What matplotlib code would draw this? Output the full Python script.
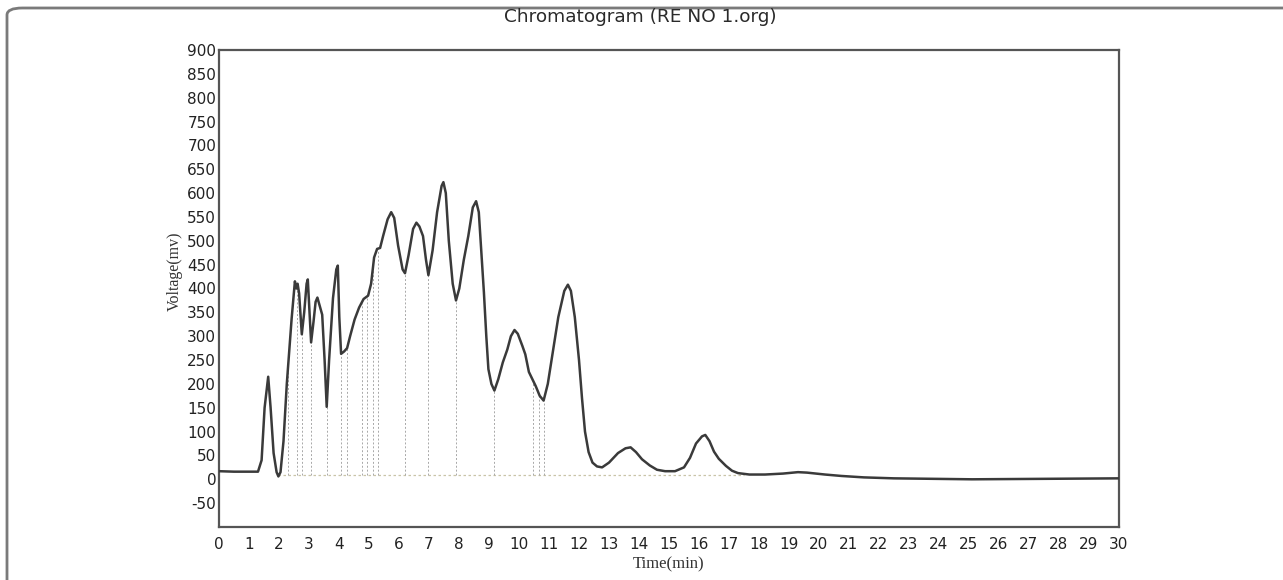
import numpy as np
import matplotlib
matplotlib.use("Agg")
import matplotlib.pyplot as plt
from matplotlib.patches import FancyBboxPatch

plt.rcParams["axes.unicode_minus"] = False

# === data ===
time_min = [0.0, 0.5, 1.0, 1.3, 1.42, 1.52, 1.64, 1.72, 1.82, 1.92, 1.98, 2.05,
            2.15, 2.26, 2.42, 2.53, 2.58, 2.62, 2.67, 2.76, 2.84, 2.92, 2.96, 3.0,
            3.07, 3.15, 3.22, 3.28, 3.35, 3.44, 3.52, 3.59, 3.67, 3.8, 3.91, 3.96,
            4.01, 4.07, 4.17, 4.27, 4.37, 4.52, 4.67, 4.82, 4.97, 5.07, 5.17, 5.27,
            5.37, 5.47, 5.62, 5.74, 5.84, 5.97, 6.12, 6.2, 6.32, 6.47, 6.58, 6.68,
            6.8, 6.9, 6.98, 7.12, 7.27, 7.42, 7.48, 7.56, 7.66, 7.79, 7.9, 8.01,
            8.16, 8.31, 8.46, 8.57, 8.66, 8.76, 8.83, 8.91, 8.98, 9.08, 9.18, 9.31,
            9.46, 9.61, 9.73, 9.85, 9.96, 10.11, 10.21, 10.33, 10.47, 10.56, 10.69,
            10.82, 10.96, 11.11, 11.31, 11.51, 11.63, 11.73, 11.86, 12.0, 12.1,
            12.2, 12.32, 12.45, 12.6, 12.77, 13.0, 13.3, 13.55, 13.72, 13.9, 14.1,
            14.36, 14.6, 14.87, 15.2, 15.5, 15.7, 15.9, 16.1, 16.21, 16.35, 16.5,
            16.66, 16.9, 17.1, 17.3, 17.68, 18.2, 18.8, 19.3, 19.6, 20.2, 20.75,
            21.5, 22.5, 25.1, 27.5, 30.0]
voltage_mv = [17, 16, 16, 16, 40, 150, 215, 150, 55, 15, 6, 15,
              80, 200, 336, 415, 400, 410, 390, 304, 350, 410, 419, 370,
              287, 330, 372, 381, 365, 345, 250, 152, 250, 380, 440, 448,
              340, 263, 268, 275, 300, 335, 360, 378, 385, 410, 465, 483,
              485, 510, 545, 560, 548, 490, 440, 432, 470, 525, 538, 530,
              510, 460, 428, 480, 560, 615, 623, 600, 500, 410, 375, 400,
              460, 510, 570, 583, 560, 460, 392, 300, 231, 200, 186, 210,
              245, 272, 300, 313, 305, 280, 262, 225, 207, 195, 175,
              165, 200, 260, 340, 395, 408, 395, 340, 250, 170,
              100, 57, 35, 27, 25, 35, 55, 65, 67, 57, 42,
              29, 20, 17, 17, 25, 45, 75, 90, 93, 80, 58,
              43, 28, 18, 13, 10, 10, 12, 15, 14, 10, 7,
              4, 2, 0, 1, 2]

# peak boundaries (drop lines) in minutes
drop_times = [2.3, 2.6, 2.76, 3.07, 3.59, 4.07, 4.27, 4.75, 4.92, 5.13, 5.3,
              6.2, 6.98, 7.9, 9.18, 10.47, 10.66, 10.82]
baseline_mv = 10
baseline_span = [1.98, 17.5]

x_ticks = list(range(0, 31))
y_ticks = list(range(-50, 901, 50))

fig = plt.figure(figsize=(12.83, 5.8), dpi=100)
fig.patch.set_facecolor("white")

# rounded frame around the scanned figure (runs off the right / bottom edge)
frame = FancyBboxPatch((7 / 1283, -0.05), 1.05, 1 - 8 / 580 + 0.05,
                       boxstyle="round,pad=0,rounding_size=0.012",
                       transform=fig.transFigure, fill=False,
                       edgecolor="#7a7a7a", linewidth=2.0)
fig.patches.append(frame)

ax = fig.add_axes([219 / 1283, 1 - 527 / 580, 900 / 1283, (527 - 50) / 580])
ax.set_xlim(0, 30)
ax.set_ylim(-100, 900)

# baseline + drop lines
ax.plot(baseline_span, [baseline_mv, baseline_mv], color="#c9c4a8",
        lw=0.9, ls=(0, (2, 2)), zorder=1)
drop_tops = np.interp(drop_times, time_min, voltage_mv)
ax.vlines(drop_times, baseline_mv, drop_tops, colors="#a8a8a8",
          linewidth=0.7, linestyles=(0, (2, 2)), zorder=1)

ax.plot(time_min, voltage_mv, color="#3a3a3a", lw=1.8, zorder=3)

ax.set_xticks(x_ticks)
ax.set_yticks(y_ticks)
ax.tick_params(length=0, labelsize=11, labelcolor="#222222")
ax.tick_params(axis="x", pad=7)
ax.tick_params(axis="y", pad=2)
for s in ax.spines.values():
    s.set_color("#555555")
    s.set_linewidth(1.6)

ax.set_ylabel("Voltage(mv)", family="Liberation Serif", fontsize=11.5,
              color="#333333")
ax.yaxis.set_label_coords(-0.04, 0.537)
ax.set_xlabel("Time(min)", family="Liberation Serif", fontsize=12,
              color="#333333")
ax.xaxis.set_label_coords(0.5, -0.062)

fig.text(640 / 1283, 1 - 17 / 580, "Chromatogram (RE NO 1.org)",
         ha="center", va="center", fontsize=13.3, color="#2a2a2a")

fig.savefig("out.png", dpi=100)
